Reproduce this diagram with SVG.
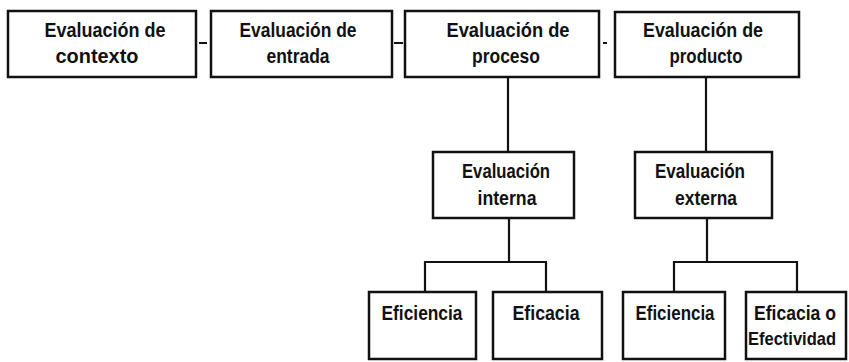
<svg xmlns="http://www.w3.org/2000/svg" width="849" height="362" viewBox="0 0 849 362">
<style>
.box{fill:#fff;stroke:#111;stroke-width:2.5}
.ln{stroke:#111;stroke-width:2.2;fill:none}
.dash{stroke:#111;stroke-width:2;fill:none}
text{font-family:"Liberation Sans","DejaVu Sans",sans-serif;font-size:21px;font-weight:bold;fill:#111;text-anchor:middle}
.sm{font-size:20px}
.xs{font-size:19px}
</style>
<rect width="849" height="362" fill="#fff"/>
<g id="connectors">
<line class="dash" x1="199" y1="43" x2="207" y2="43"/>
<line class="dash" x1="394" y1="43" x2="403" y2="43"/>
<line class="dash" x1="603" y1="43" x2="607" y2="43"/>
<line class="ln" x1="508" y1="77" x2="508" y2="152"/>
<line class="ln" x1="706" y1="77" x2="706" y2="152"/>
<polyline class="ln" points="509,218 509,262"/>
<polyline class="ln" points="425,292 425,262 546,262 546,292"/>
<polyline class="ln" points="707,218 707,262"/>
<polyline class="ln" points="674,292 674,262 797,262 797,292"/>
</g>
<g id="contexto">
<rect class="box" x="8" y="11" width="188" height="66"/>
<text x="105" y="37" textLength="121" lengthAdjust="spacingAndGlyphs">Evaluación de</text>
<text x="97" y="63" textLength="83" lengthAdjust="spacingAndGlyphs">contexto</text>
</g>
<g id="entrada">
<rect class="box" x="211" y="11" width="181" height="66"/>
<text x="298" y="37" textLength="117" lengthAdjust="spacingAndGlyphs">Evaluación de</text>
<text x="298" y="63" textLength="63" lengthAdjust="spacingAndGlyphs">entrada</text>
</g>
<g id="proceso">
<rect class="box" x="405" y="11" width="194" height="66"/>
<text x="508" y="37" textLength="123" lengthAdjust="spacingAndGlyphs">Evaluación de</text>
<text x="506" y="63" textLength="68" lengthAdjust="spacingAndGlyphs">proceso</text>
</g>
<g id="producto">
<rect class="box" x="615" y="12" width="184" height="65"/>
<text x="703" y="37" textLength="120" lengthAdjust="spacingAndGlyphs">Evaluación de</text>
<text x="706" y="63" textLength="73" lengthAdjust="spacingAndGlyphs">producto</text>
</g>
<g id="interna">
<rect class="box" x="433" y="152" width="141" height="66"/>
<text x="506" y="178" textLength="88" lengthAdjust="spacingAndGlyphs">Evaluación</text>
<text x="507" y="205" textLength="59" lengthAdjust="spacingAndGlyphs">interna</text>
</g>
<g id="externa">
<rect class="box" x="635" y="152" width="137" height="66"/>
<text x="700" y="178" textLength="90" lengthAdjust="spacingAndGlyphs">Evaluación</text>
<text x="706" y="205" textLength="62" lengthAdjust="spacingAndGlyphs">externa</text>
</g>
<g id="eficiencia1">
<rect class="box" x="369" y="292" width="107" height="67"/>
<text x="422" y="320" textLength="81" lengthAdjust="spacingAndGlyphs">Eficiencia</text>
</g>
<g id="eficacia1">
<rect class="box" x="493" y="292" width="109" height="67"/>
<text x="546" y="320" textLength="67" lengthAdjust="spacingAndGlyphs">Eficacia</text>
</g>
<g id="eficiencia2">
<rect class="box" x="623" y="292" width="102" height="67"/>
<text x="675" y="320" textLength="79" lengthAdjust="spacingAndGlyphs">Eficiencia</text>
</g>
<g id="efectividad">
<rect class="box" x="746" y="292" width="100" height="67"/>
<text class="sm" x="795" y="320" textLength="82" lengthAdjust="spacingAndGlyphs">Eficacia o</text>
<text class="xs" x="792" y="345" textLength="88" lengthAdjust="spacingAndGlyphs">Efectividad</text>
</g>
</svg>
